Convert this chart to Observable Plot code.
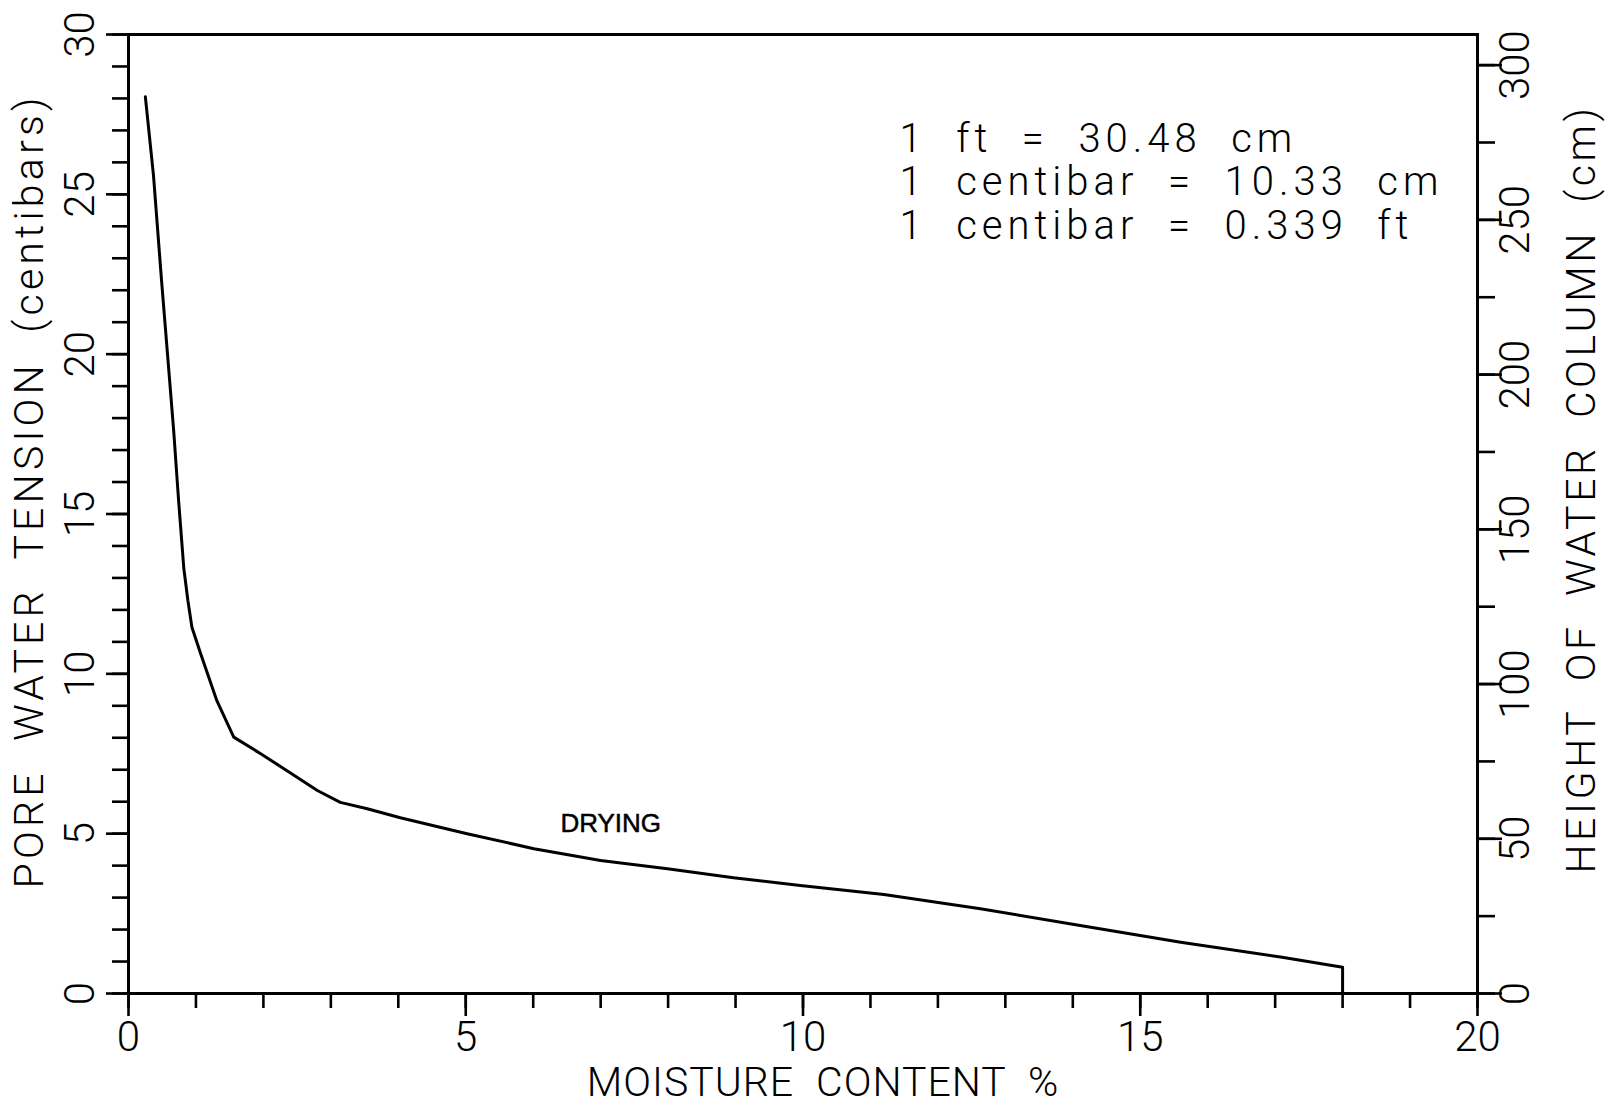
<!DOCTYPE html>
<html>
<head>
<meta charset="utf-8">
<script src="https://cdn.jsdelivr.net/npm/d3@7"></script>
<script src="https://cdn.jsdelivr.net/npm/@observablehq/plot@0.6"></script>
<style>
  html, body { margin: 0; padding: 0; background: #fff; }
  #chart svg { display: block; }
</style>
</head>
<body>
<div id="chart"></div>
<script>
// Drying curve: moisture content (%) vs pore water tension (centibars)
const moisture = [0.25, 0.37, 0.49, 0.59, 0.67, 0.74, 0.82, 0.88, 0.94, 1.07, 1.31, 1.56,
  1.96, 2.35, 2.80, 3.14, 3.54, 4.03, 5.02, 6.01, 7.00, 7.99, 8.97, 9.96, 11.2, 12.63,
  14.11, 15.6, 17.08, 18.0, 18.0];
const tension = [28.05, 25.6, 22.3, 19.7, 17.6, 15.5, 13.3, 12.3, 11.46, 10.63, 9.16, 8.02,
  7.5, 6.97, 6.35, 5.98, 5.78, 5.5, 5.0, 4.53, 4.16, 3.9, 3.62, 3.38, 3.1, 2.65,
  2.13, 1.6, 1.14, 0.82, 0];

// Axis ticks
const xMajor = [0, 5, 10, 15, 20];
const xMinor = d3.range(0, 21, 1);
const yMajor = [0, 5, 10, 15, 20, 25, 30];
const yMinor = d3.range(0, 31, 1);
const cmMajor = [0, 50, 100, 150, 200, 250, 300];
const cmMinor = d3.range(0, 301, 25);
const CM_PER_CENTIBAR = 10.33;

// Text
const xTitle = ["MOISTURE  CONTENT  %"];
const yTitle = ["PORE  WATER  TENSION  (centibars)"];
const y2Title = ["HEIGHT  OF  WATER  COLUMN  (cm)"];
const notes = ["1  ft  =  30.48  cm\n1  centibar  =  10.33  cm\n1  centibar  =  0.339  ft"];
const curveLabel = ["DRYING"];

const curve = moisture.map((m, i) => ({m, t: tension[i]}));

const FONT = "Roboto, 'Open Sans', 'DejaVu Sans', sans-serif";
const SW = 2.6;
const tickOnly = {tickFormat: null, label: null, fill: "none", strokeWidth: SW};

const chart = Plot.plot({
  width: 1611,
  height: 1107,
  marginLeft: 128,
  marginRight: 134,
  marginTop: 34,
  marginBottom: 114,
  style: {background: "#fff", color: "#000", fontFamily: FONT},
  x: {domain: [0, 20]},
  y: {domain: [0, 30]},
  marks: [
    // bottom axis ticks
    Plot.axisX(xMinor, {anchor: "bottom", tickSize: 15, ...tickOnly}),
    Plot.axisX(xMajor, {anchor: "bottom", tickSize: 23, ...tickOnly}),
    // left axis ticks
    Plot.axisY(yMinor, {anchor: "left", tickSize: 16, ...tickOnly}),
    Plot.axisY(yMajor, {anchor: "left", tickSize: 22, ...tickOnly}),
    // right axis ticks, in cm of water column
    Plot.axisY(cmMinor.map(c => c / CM_PER_CENTIBAR), {anchor: "right", tickSize: 17, ...tickOnly}),
    Plot.axisY(cmMajor.map(c => c / CM_PER_CENTIBAR), {anchor: "right", tickSize: 24, ...tickOnly}),
    Plot.frame({stroke: "#000", strokeWidth: 3}),

    // tick labels
    Plot.text(xMajor, {x: d => d, frameAnchor: "bottom", dy: 44, text: d => String(d),
      fontSize: 42, fontWeight: 300, fontFamily: FONT, textAnchor: "middle", lineAnchor: "middle"}),
    Plot.text(yMajor, {y: d => d, frameAnchor: "left", dx: -48, rotate: -90, text: d => String(d),
      fontSize: 42, fontWeight: 300, fontFamily: FONT, textAnchor: "middle", lineAnchor: "middle"}),
    Plot.text(cmMajor, {y: d => d / CM_PER_CENTIBAR, frameAnchor: "right", dx: 38, rotate: -90, text: d => String(d),
      fontSize: 42, fontWeight: 300, fontFamily: FONT, textAnchor: "middle", lineAnchor: "middle"}),

    // axis titles
    Plot.text(xTitle, {frameAnchor: "bottom", dx: 20, dy: 89, text: d => d,
      fontSize: 41, fontWeight: 300, fontFamily: FONT, textAnchor: "middle", lineAnchor: "middle"}),
    Plot.text(yTitle, {frameAnchor: "left", dx: -99, dy: -23, rotate: -90, text: d => d,
      fontSize: 41, fontWeight: 300, fontFamily: FONT, textAnchor: "middle", lineAnchor: "middle"}),
    Plot.text(y2Title, {frameAnchor: "right", dx: 104, dy: -25, rotate: -90, text: d => d,
      fontSize: 41, fontWeight: 300, fontFamily: FONT, textAnchor: "middle", lineAnchor: "middle"}),

    // drying curve
    Plot.line(curve, {x: "m", y: "t", stroke: "#000", strokeWidth: 3, strokeLinejoin: "round"}),
    Plot.text(curveLabel, {x: 7.15, y: 5.32, text: d => d, fontSize: 26, fontWeight: 400,
      fill: "#000", stroke: "#000", strokeWidth: 0.5,
      fontFamily: "'Liberation Sans', Arial, sans-serif", textAnchor: "middle", lineAnchor: "middle"}),

    // unit conversions
    Plot.text(notes, {x: 11.43, y: 27.3, text: d => d, textAnchor: "start", lineAnchor: "top",
      lineHeight: 1.09, fontSize: 40, fontWeight: 300, fontFamily: FONT})
  ]
});

const svg = d3.select(chart);
svg.selectAll("text").style("white-space", "pre");
// wider plotter-style spacing for the conversion notes and axis titles
svg.selectAll("text").filter(function () { return this.textContent.includes("centibar  ="); })
  .attr("letter-spacing", 5);
svg.selectAll("text").filter(function () { return /CONTENT/.test(this.textContent); })
  .attr("letter-spacing", 1);
svg.selectAll("text").filter(function () { return /TENSION/.test(this.textContent); })
  .attr("letter-spacing", 4.2);
svg.selectAll("text").filter(function () { return /COLUMN/.test(this.textContent); })
  .attr("letter-spacing", 3.6);
document.getElementById("chart").append(chart);
</script>
</body>
</html>
